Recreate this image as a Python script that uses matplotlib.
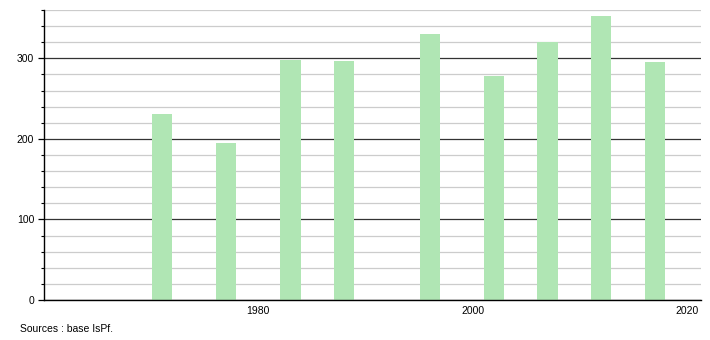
import matplotlib.pyplot as plt
from matplotlib.ticker import MultipleLocator

annees = [1971, 1977, 1983, 1988, 1996, 2002, 2007, 2012, 2017]
population = [231, 195, 298, 297, 330, 278, 320, 353, 295]
graduations_x = [1980, 2000, 2020]

plt.rcParams['font.family'] = ['Liberation Sans', 'DejaVu Sans']

fig = plt.figure(figsize=(7.1, 3.4), dpi=100)
ax = fig.add_axes([0.062, 0.1176, 0.925, 0.853])

ax.bar(annees, population, width=1.9, color="#b0e6b4", zorder=3)

ax.set_xlim(1960, 2021.3)
ax.set_ylim(0, 360)
ax.set_xticks(graduations_x)
ax.set_xticklabels([str(a) for a in graduations_x])
ax.yaxis.set_major_locator(MultipleLocator(100))
ax.yaxis.set_minor_locator(MultipleLocator(20))

ax.grid(axis="y", which="minor", color="#cccccc", linewidth=0.9, zorder=1)
ax.grid(axis="y", which="major", color="#333333", linewidth=0.9, zorder=2)

for cote in ["top", "right"]:
    ax.spines[cote].set_visible(False)
ax.spines["left"].set_linewidth(1)
ax.spines["bottom"].set_linewidth(1)
ax.spines["bottom"].set_zorder(4)

ax.tick_params(axis="x", length=0, pad=4, labelsize=7.5)
ax.tick_params(axis="y", which="major", length=4, width=0.9, pad=3, labelsize=7.5)
ax.tick_params(axis="y", which="minor", length=2, width=0.8)

fig.text(20 / 710, 1 - 329 / 340, "Sources : base IsPf.", fontsize=7.5, va="center", ha="left")

fig.savefig("out.png", dpi=100)
